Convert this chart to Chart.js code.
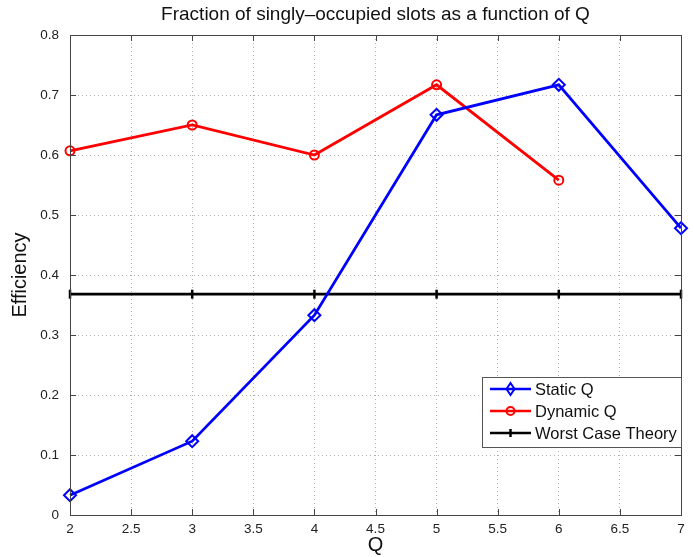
<!DOCTYPE html>
<html><head><meta charset="utf-8">
<script src="https://cdn.jsdelivr.net/npm/chart.js@4.4.1/dist/chart.umd.min.js"></script>
<style>html,body{margin:0;padding:0;background:#fff}#wrap{width:695px;height:557px}</style>
</head><body><div id="wrap"><canvas id="c" width="695" height="557"></canvas></div>
<script>
const chartTitle = 'Fraction of singly\u2013occupied slots as a function of Q';
const xAxisTitle = 'Q';
const yAxisTitle = 'Efficiency';
const qValues = [2, 3, 4, 5, 6, 7];
const staticQ = [0.033, 0.123, 0.333, 0.667, 0.717, 0.478];
const dynamicQ = [0.607, 0.650, 0.600, 0.717, 0.558];
const worstCase = [0.368, 0.368, 0.368, 0.368, 0.368, 0.368];
const seriesNames = ['Static Q', 'Dynamic Q', 'Worst Case Theory'];
const seriesColors = ['#0000ff', '#ff0000', '#000000'];

const FONT = '"Liberation Sans", Arial, Helvetica, sans-serif';
const toPts = (vals) => vals.map((v, i) => ({x: qValues[i], y: v}));
const fmt = (v) => String(Number(v.toFixed(2)));

const framePlugin = {
  id: 'frame',
  afterDraw(chart) {
    const {ctx, chartArea: a, scales: {x, y}} = chart;
    ctx.save();
    ctx.strokeStyle = '#444';
    ctx.lineWidth = 1;
    const seg = (x1, y1, x2, y2) => { ctx.beginPath(); ctx.moveTo(x1, y1); ctx.lineTo(x2, y2); ctx.stroke(); };
    x.ticks.forEach(t => {
      const px = Math.round(x.getPixelForValue(t.value)) + 0.5;
      seg(px, a.bottom, px, a.bottom - 6);
      seg(px, a.top, px, a.top + 6);
    });
    y.ticks.forEach(t => {
      const py = Math.round(y.getPixelForValue(t.value)) + 0.5;
      seg(a.left, py, a.left + 6, py);
      seg(a.right, py, a.right - 6, py);
    });
    ctx.strokeRect(Math.round(a.left) + 0.5, Math.round(a.top) + 0.5, Math.round(a.right - a.left), Math.round(a.bottom - a.top));

    // title
    ctx.fillStyle = '#111';
    ctx.font = '19px ' + FONT;
    ctx.textAlign = 'center';
    ctx.textBaseline = 'middle';
    ctx.fillText(chartTitle, (a.left + a.right) / 2, 15);

    // legend
    const lx = 482, ly = 377, lw = 199, lh = 70;
    ctx.fillStyle = '#fff';
    ctx.fillRect(lx, ly, lw, lh);
    ctx.strokeStyle = '#555';
    ctx.strokeRect(lx + 0.5, ly + 0.5, lw, lh);
    ctx.font = '16.5px ' + FONT;
    ctx.textAlign = 'left';
    chart.data.datasets.forEach((ds, i) => {
      const cy = ly + 12 + i * 22;
      ctx.strokeStyle = ds.borderColor;
      ctx.lineWidth = 2.5;
      seg(490, cy, 531, cy);
      ctx.lineWidth = ds.pointBorderWidth;
      if (ds.pointStyle === 'rectRot') {
        ctx.beginPath(); ctx.moveTo(510.5, cy - 6); ctx.lineTo(514.5, cy); ctx.lineTo(510.5, cy + 6); ctx.lineTo(506.5, cy); ctx.closePath(); ctx.stroke();
      } else if (ds.pointStyle === 'circle') {
        ctx.beginPath(); ctx.arc(510.5, cy, 4, 0, Math.PI * 2); ctx.stroke();
      } else {
        seg(510.5, cy - 4, 510.5, cy + 4);
      }
      ctx.fillStyle = '#111';
      ctx.fillText(ds.label, 535, cy + 1);
    });
    ctx.restore();
  }
};

new Chart(document.getElementById('c'), {
  type: 'line',
  data: {
    datasets: [
      {label: seriesNames[0], data: toPts(staticQ), borderColor: seriesColors[0], backgroundColor: 'rgba(0,0,0,0)', clip: false,
       borderWidth: 2.8, pointStyle: 'rectRot', pointRadius: 6, pointBorderWidth: 2, pointBackgroundColor: 'rgba(0,0,0,0)', pointBorderColor: seriesColors[0]},
      {label: seriesNames[1], data: toPts(dynamicQ), borderColor: seriesColors[1], backgroundColor: 'rgba(0,0,0,0)', clip: false,
       borderWidth: 2.8, pointStyle: 'circle', pointRadius: 4.5, pointBorderWidth: 2, pointBackgroundColor: 'rgba(0,0,0,0)', pointBorderColor: seriesColors[1]},
      {label: seriesNames[2], data: toPts(worstCase), borderColor: seriesColors[2], backgroundColor: 'rgba(0,0,0,0)', clip: false,
       borderWidth: 2.8, pointStyle: 'line', rotation: 90, pointRadius: 4.5, pointBorderWidth: 2.5, pointBorderColor: seriesColors[2]}
    ]
  },
  options: {
    responsive: false,
    animation: false,
    layout: {padding: {top: 35, right: 14, left: 0, bottom: 0}},
    plugins: {legend: {display: false}, title: {display: false}, tooltip: {enabled: false}},
    elements: {line: {tension: 0}},
    scales: {
      x: {
        type: 'linear', min: 2, max: 7,
        afterFit(s) { s.height = 42; },
        ticks: {stepSize: 0.5, padding: 6, color: '#222', font: {family: FONT, size: 13.5}, maxRotation: 0, autoSkip: false, callback: (v) => fmt(v)},
        grid: {color: '#b0b0b0', lineWidth: 1, drawTicks: false},
        border: {display: false, dash: [1, 3]},
        title: {display: true, text: xAxisTitle, color: '#111', font: {family: FONT, size: 20, lineHeight: '24px'}, padding: 0}
      },
      y: {
        min: 0, max: 0.8,
        afterFit(s) { s.width = 70; },
        ticks: {stepSize: 0.1, padding: 11, color: '#222', font: {family: FONT, size: 13.5}, callback: (v) => fmt(v)},
        grid: {color: '#b0b0b0', lineWidth: 1, drawTicks: false},
        border: {display: false, dash: [1, 3]},
        title: {display: true, text: yAxisTitle, color: '#111', font: {family: FONT, size: 20, lineHeight: '40px'}, padding: 0}
      }
    }
  },
  plugins: [framePlugin]
});
</script>
</body></html>
